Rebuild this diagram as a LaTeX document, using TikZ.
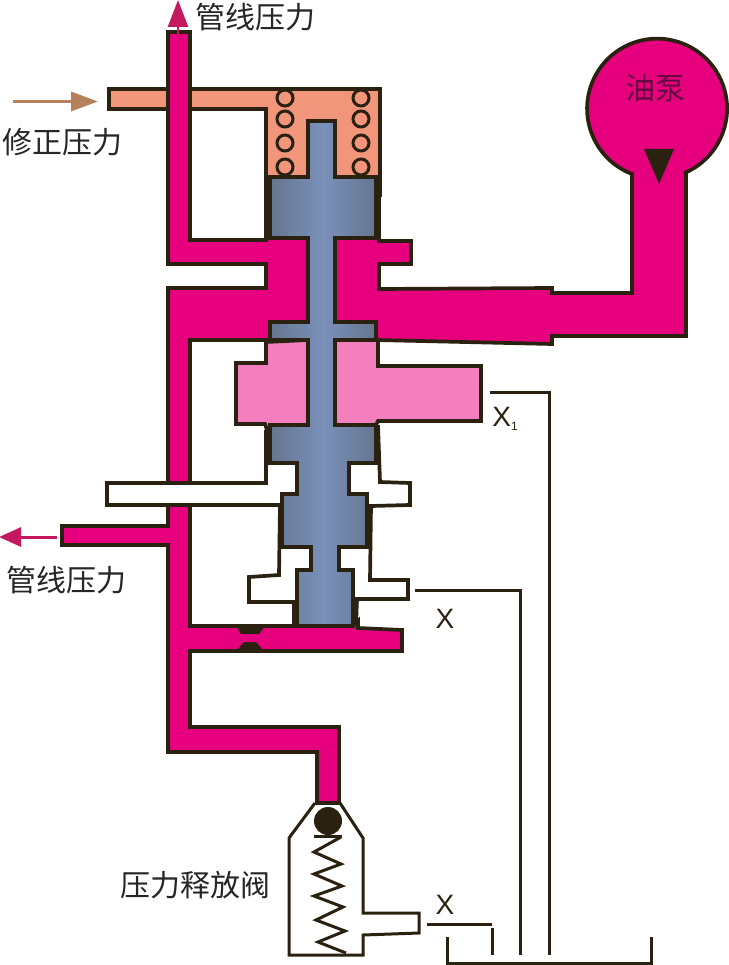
\documentclass[tikz,border=0pt]{standalone}
\usepackage{fontspec}
\setmainfont{Liberation Sans}
\newfontfamily\cjk{Noto Sans CJK SC}
\usetikzlibrary{arrows.meta}
\definecolor{wallline}{HTML}{2B2110}
\definecolor{oilred}{HTML}{E6007E}
\definecolor{oilsalmon}{HTML}{F1967A}
\definecolor{oilpink}{HTML}{F47FBF}
\definecolor{spooledge}{HTML}{65768F}
\definecolor{spoolmid}{HTML}{7A90BA}
\definecolor{arrowred}{HTML}{C4185F}
\definecolor{arrowbrown}{HTML}{B5805A}
\definecolor{pumptext}{HTML}{5E0A3E}
\tikzset{
  wall/.style={draw=wallline, line width=3.7pt, line join=miter},
  leader/.style={draw=wallline, line width=3pt},
  coil/.style={shape=circle, draw=wallline, line width=3pt, minimum size=16pt, inner sep=0pt},
  cnlabel/.style={font=\cjk\fontsize{30}{30}\selectfont, text=black!85, inner sep=0pt},
  xlabel/.style={font=\fontsize{28}{28}\selectfont, text=wallline, inner sep=0pt},
}
\begin{document}
\begin{tikzpicture}[x=1pt, y=-1pt]
\useasboundingbox (0,0) rectangle (728,965);
% control chamber
\path[wall, fill=oilsalmon] (109,89) -- (380,89) -- (380,195) -- (376,195) -- (376,177) -- (270,177) -- (270,205) -- (266,205) -- (266,109) -- (109,109) -- cycle;
% mid chambers
\path[wall, fill=oilpink] (266,342) -- (266,363) -- (236,363) -- (236,424) -- (265,424) -- (267,430) -- (308,425) -- (308,340) -- cycle;
\path[wall, fill=oilpink] (335,340) -- (378,340) -- (378,366) -- (481,366) -- (481,421) -- (378,421) -- (376,425) -- (335,425) -- cycle;
% line pressure circuit
\path[wall, fill=oilred] (168,32) -- (190,32) -- (190,240) -- (266,240) -- (266,205) -- (270,205) -- (270,238) -- (308,238) -- (308,322) -- (270,322) -- (270,340) -- (190,340) -- (190,483) -- (168,483) -- (168,288) -- (266,288) -- (266,264) -- (168,264) -- cycle;
\path[wall, fill=oilred] (168,505) -- (190,505) -- (190,626) -- (353,626) -- (358,621) -- (358,628) -- (402,630) -- (402,651) -- (190,651) -- (190,727) -- (339,727) -- (339,803) -- (317,803) -- (317,752) -- (168,752) -- (168,545) -- (62,545) -- (62,526) -- (168,526) -- cycle;
% pump and its pipe
\path[wall, fill=oilred] (335,238) -- (376,238) -- (376,195) -- (379,195) -- (379,241) -- (411,241) -- (411,264) -- (379,264) -- (379,289) -- (552,288) -- (552,293) -- (632,293) -- (632,174) arc[start angle=249, delta angle=-315, radius=70pt] -- (686,174) -- (686,336) -- (552,336) -- (552,344) -- (376,340) -- (376,322) -- (335,322) -- cycle;
\path[fill=wallline] (644,149) -- (674,149) -- (659,184) -- cycle;
% restriction
\path[fill=wallline] (236,626) -- (265,626) -- (259,634) -- (241,634) -- cycle;
\path[fill=wallline] (236,651) -- (264,651) -- (256,642) -- (244,642) -- cycle;
% exhaust passages
\draw[wall] (266,430) -- (266,483) -- (107,483) -- (107,505) -- (280,505) -- (279,575) -- (249,577) -- (249,602) -- (294,602) -- (294,626);
\draw[wall] (378,425) -- (380,482) -- (410,483) -- (410,505) -- (371,506) -- (370,580) -- (408,580) -- (408,599) -- (357,599) -- (356,626);
% spool
\path[wall, left color=spooledge, right color=spooledge, middle color=spoolmid] (308,121) -- (335,121) -- (335,177) -- (376,177) -- (376,238) -- (335,238) -- (335,322) -- (376,322) -- (376,340) -- (335,340) -- (335,425) -- (376,425) -- (376,463) -- (349,463) -- (349,494) -- (367,494) -- (367,547) -- (339,547) -- (339,570) -- (353,570) -- (353,626) -- (297,626) -- (297,570) -- (311,570) -- (311,547) -- (282,547) -- (282,494) -- (297,494) -- (297,463) -- (270,463) -- (270,425) -- (308,425) -- (308,340) -- (270,340) -- (270,322) -- (308,322) -- (308,238) -- (270,238) -- (270,177) -- (308,177) -- cycle;
% springs
\node[coil] (coilA) at (285,98) {};
\node[coil] (coilB) at (285,119) {};
\node[coil] (coilC) at (285,143) {};
\node[coil] (coilD) at (285,167) {};
\node[coil] (coilE) at (361,98) {};
\node[coil] (coilF) at (361,119) {};
\node[coil] (coilG) at (361,143) {};
\node[coil] (coilH) at (361,167) {};
% relief valve
\draw[wall, line width=3pt] (315,803) -- (289,838) -- (289,955) -- (363,955) -- (363,935) -- (419,933) -- (419,913) -- (363,913) -- (363,838) -- (340,803);
\node[shape=circle, fill=wallline, minimum size=28pt, inner sep=0pt] (ball) at (328,821) {};
\draw[leader] (314,836) -- (342,836);
\draw[leader] (341,837) -- (314,852) -- (341,864) -- (314,874) -- (342,886) -- (314,896) -- (343,907) -- (316,920) -- (345,931) -- (318,942) -- (346,953);
% tank and drains
\coordinate (tankL) at (447,937);
\coordinate (tankR) at (651,937);
\draw[leader] (tankL) -- (447,963) -- (651,963) -- (tankR);
\coordinate (drainA) at (490,392);
\coordinate (drainAend) at (549,955);
\draw[leader] (drainA) -- (549,392) -- (drainAend);
\coordinate (drainB) at (415,590);
\coordinate (drainBend) at (520,955);
\draw[leader] (drainB) -- (520,590) -- (drainBend);
\coordinate (drainC) at (427,924);
\coordinate (drainCend) at (492,924);
\draw[leader] (drainC) -- (drainCend);
\coordinate (drainD) at (492,928);
\coordinate (drainDend) at (492,955);
\draw[leader] (drainD) -- (drainDend);
% arrows
\coordinate (outTopS) at (178,36);
\coordinate (outTopE) at (178,0);
\draw[arrowred, line width=2.5pt, -{Triangle[length=27pt, width=20pt]}] (outTopS) -- (outTopE);
\coordinate (trimS) at (13,101.5);
\coordinate (trimE) at (98,101.5);
\draw[arrowbrown, line width=3.5pt, -{Triangle[length=27pt, width=19pt]}] (trimS) -- (trimE);
\coordinate (outLeftS) at (57,537);
\coordinate (outLeftE) at (-1,537);
\draw[arrowred, line width=3pt, -{Triangle[length=22pt, width=19pt]}] (outLeftS) -- (outLeftE);
% labels
\node[cnlabel] (lineTop) at (255,17) {管线压力};
\node[cnlabel] (trimLabel) at (62,142) {修正压力};
\node[cnlabel] (lineLeft) at (66,580) {管线压力};
\node[cnlabel] (reliefLabel) at (195,885) {压力释放阀};
\node[cnlabel, text=pumptext] (pumpLabel) at (655,88) {油泵};
\node[xlabel] (xOne) at (505,419) {X\raisebox{-4pt}{\fontsize{12}{12}\selectfont 1}};
\node[xlabel] (xMid) at (445,619) {X};
\node[xlabel] (xLow) at (445,905) {X};
\end{tikzpicture}
\end{document}
